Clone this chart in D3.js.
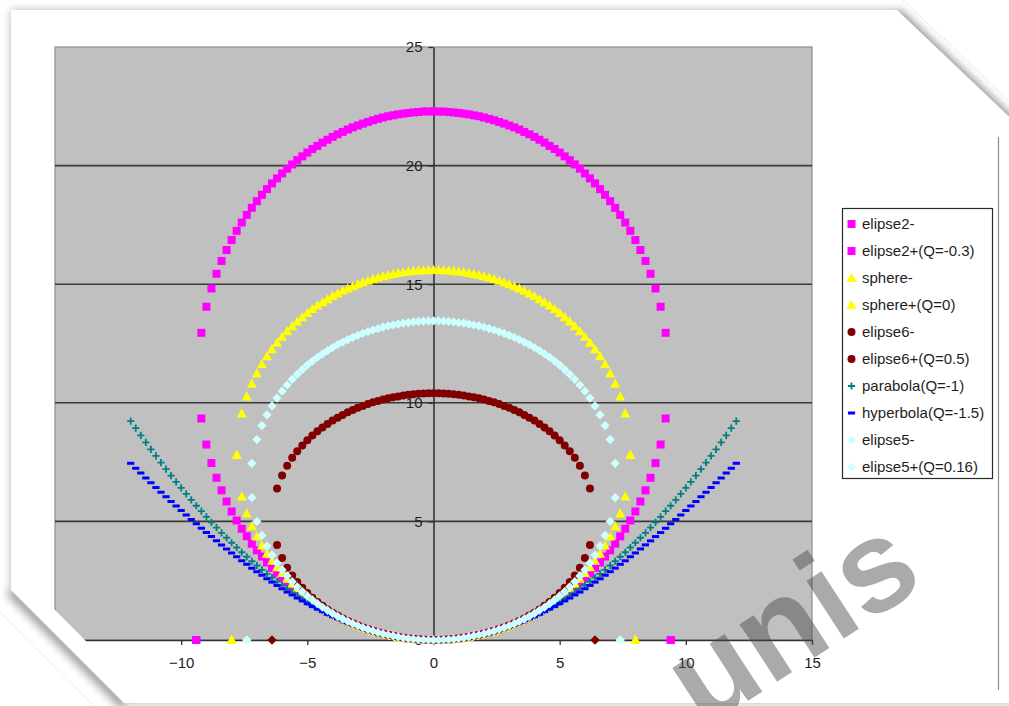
<!DOCTYPE html>
<html>
<head>
<meta charset="utf-8">
<script src="https://cdn.jsdelivr.net/npm/d3@7"></script>
<style>
  html, body { margin: 0; padding: 0; background: #fff; }
  svg { display: block; }
  text { font-family: Arial, "Liberation Sans", sans-serif; }
</style>
</head>
<body>
<svg id="chart" width="1009" height="706"></svg>
<script>
// ---- x positions (step 0.2) for each conic family ----
const xParabola = [-12,-11.8,-11.6,-11.4,-11.2,-11,-10.8,-10.6,-10.4,-10.2,-10,-9.8,-9.6,-9.4,-9.2,-9,-8.8,-8.6,-8.4,-8.2,-8,-7.8,-7.6,-7.4,-7.2,-7,-6.8,-6.6,-6.4,-6.2,-6,-5.8,-5.6,-5.4,-5.2,-5,-4.8,-4.6,-4.4,-4.2,-4,-3.8,-3.6,-3.4,-3.2,-3,-2.8,-2.6,-2.4,-2.2,-2,-1.8,-1.6,-1.4,-1.2,-1,-0.8,-0.6,-0.4,-0.2,0,0.2,0.4,0.6,0.8,1,1.2,1.4,1.6,1.8,2,2.2,2.4,2.6,2.8,3,3.2,3.4,3.6,3.8,4,4.2,4.4,4.6,4.8,5,5.2,5.4,5.6,5.8,6,6.2,6.4,6.6,6.8,7,7.2,7.4,7.6,7.8,8,8.2,8.4,8.6,8.8,9,9.2,9.4,9.6,9.8,10,10.2,10.4,10.6,10.8,11,11.2,11.4,11.6,11.8,12];
const xElipse2 = [-9.4,-9.2,-9,-8.8,-8.6,-8.4,-8.2,-8,-7.8,-7.6,-7.4,-7.2,-7,-6.8,-6.6,-6.4,-6.2,-6,-5.8,-5.6,-5.4,-5.2,-5,-4.8,-4.6,-4.4,-4.2,-4,-3.8,-3.6,-3.4,-3.2,-3,-2.8,-2.6,-2.4,-2.2,-2,-1.8,-1.6,-1.4,-1.2,-1,-0.8,-0.6,-0.4,-0.2,0,0.2,0.4,0.6,0.8,1,1.2,1.4,1.6,1.8,2,2.2,2.4,2.6,2.8,3,3.2,3.4,3.6,3.8,4,4.2,4.4,4.6,4.8,5,5.2,5.4,5.6,5.8,6,6.2,6.4,6.6,6.8,7,7.2,7.4,7.6,7.8,8,8.2,8.4,8.6,8.8,9,9.2,9.4];
const xSphere = [-8,-7.8,-7.6,-7.4,-7.2,-7,-6.8,-6.6,-6.4,-6.2,-6,-5.8,-5.6,-5.4,-5.2,-5,-4.8,-4.6,-4.4,-4.2,-4,-3.8,-3.6,-3.4,-3.2,-3,-2.8,-2.6,-2.4,-2.2,-2,-1.8,-1.6,-1.4,-1.2,-1,-0.8,-0.6,-0.4,-0.2,0,0.2,0.4,0.6,0.8,1,1.2,1.4,1.6,1.8,2,2.2,2.4,2.6,2.8,3,3.2,3.4,3.6,3.8,4,4.2,4.4,4.6,4.8,5,5.2,5.4,5.6,5.8,6,6.2,6.4,6.6,6.8,7,7.2,7.4,7.6,7.8,8];
const xElipse6 = [-6.4,-6.2,-6,-5.8,-5.6,-5.4,-5.2,-5,-4.8,-4.6,-4.4,-4.2,-4,-3.8,-3.6,-3.4,-3.2,-3,-2.8,-2.6,-2.4,-2.2,-2,-1.8,-1.6,-1.4,-1.2,-1,-0.8,-0.6,-0.4,-0.2,0,0.2,0.4,0.6,0.8,1,1.2,1.4,1.6,1.8,2,2.2,2.4,2.6,2.8,3,3.2,3.4,3.6,3.8,4,4.2,4.4,4.6,4.8,5,5.2,5.4,5.6,5.8,6,6.2,6.4];
const xElipse5 = [-7.4,-7.2,-7,-6.8,-6.6,-6.4,-6.2,-6,-5.8,-5.6,-5.4,-5.2,-5,-4.8,-4.6,-4.4,-4.2,-4,-3.8,-3.6,-3.4,-3.2,-3,-2.8,-2.6,-2.4,-2.2,-2,-1.8,-1.6,-1.4,-1.2,-1,-0.8,-0.6,-0.4,-0.2,0,0.2,0.4,0.6,0.8,1,1.2,1.4,1.6,1.8,2,2.2,2.4,2.6,2.8,3,3.2,3.4,3.6,3.8,4,4.2,4.4,4.6,4.8,5,5.2,5.4,5.6,5.8,6,6.2,6.4,6.6,6.8,7,7.2,7.4];

// ---- sag values (out-of-range cells show up as 0 at the ends) ----
const elipse2Minus = [0,9.34,8.24,7.46,6.84,6.31,5.84,5.42,5.04,4.69,4.37,4.06,3.78,3.52,3.27,3.04,2.82,2.61,2.42,2.23,2.06,1.89,1.74,1.59,1.45,1.32,1.19,1.08,0.97,0.86,0.77,0.68,0.59,0.51,0.44,0.38,0.31,0.26,0.21,0.17,0.13,0.09,0.06,0.04,0.02,0.01,0.00,0,0.00,0.01,0.02,0.04,0.06,0.09,0.13,0.17,0.21,0.26,0.31,0.38,0.44,0.51,0.59,0.68,0.77,0.86,0.97,1.08,1.19,1.32,1.45,1.59,1.74,1.89,2.06,2.23,2.42,2.61,2.82,3.04,3.27,3.52,3.78,4.06,4.37,4.69,5.04,5.42,5.84,6.31,6.84,7.46,8.24,9.34,0];
const elipse2Plus = [0,12.95,14.05,14.82,15.44,15.98,16.44,16.86,17.25,17.60,17.92,18.22,18.50,18.77,19.01,19.25,19.46,19.67,19.87,20.05,20.23,20.39,20.55,20.70,20.83,20.97,21.09,21.21,21.32,21.42,21.52,21.61,21.69,21.77,21.84,21.91,21.97,22.03,22.08,22.12,22.16,22.19,22.22,22.24,22.26,22.28,22.28,22.29,22.28,22.28,22.26,22.24,22.22,22.19,22.16,22.12,22.08,22.03,21.97,21.91,21.84,21.77,21.69,21.61,21.52,21.42,21.32,21.21,21.09,20.97,20.83,20.70,20.55,20.39,20.23,20.05,19.87,19.67,19.46,19.25,19.01,18.77,18.50,18.22,17.92,17.60,17.25,16.86,16.44,15.98,15.44,14.82,14.05,12.95,0];
const sphereMinus = [0,7.80,6.05,5.33,4.80,4.36,3.98,3.64,3.34,3.07,2.82,2.58,2.37,2.17,1.99,1.81,1.65,1.50,1.36,1.23,1.10,0.99,0.88,0.78,0.69,0.60,0.52,0.45,0.38,0.32,0.26,0.21,0.17,0.13,0.09,0.06,0.04,0.02,0.01,0.00,0,0.00,0.01,0.02,0.04,0.06,0.09,0.13,0.17,0.21,0.26,0.32,0.38,0.45,0.52,0.60,0.69,0.78,0.88,0.99,1.10,1.23,1.36,1.50,1.65,1.81,1.99,2.17,2.37,2.58,2.82,3.07,3.34,3.64,3.98,4.36,4.80,5.33,6.05,7.80,0];
const spherePlus = [0,7.80,9.55,10.27,10.80,11.24,11.62,11.96,12.26,12.53,12.78,13.02,13.23,13.43,13.61,13.79,13.95,14.10,14.24,14.37,14.50,14.61,14.72,14.82,14.91,15.00,15.08,15.15,15.22,15.28,15.34,15.39,15.43,15.47,15.51,15.54,15.56,15.58,15.59,15.60,15.60,15.60,15.59,15.58,15.56,15.54,15.51,15.47,15.43,15.39,15.34,15.28,15.22,15.15,15.08,15.00,14.91,14.82,14.72,14.61,14.50,14.37,14.24,14.10,13.95,13.79,13.61,13.43,13.23,13.02,12.78,12.53,12.26,11.96,11.62,11.24,10.80,10.27,9.55,7.80,0];
const elipse6Minus = [0,4.01,3.46,3.05,2.72,2.44,2.20,1.98,1.78,1.60,1.44,1.29,1.15,1.03,0.91,0.80,0.70,0.61,0.53,0.45,0.38,0.32,0.26,0.21,0.17,0.13,0.09,0.06,0.04,0.02,0.01,0.00,0,0.00,0.01,0.02,0.04,0.06,0.09,0.13,0.17,0.21,0.26,0.32,0.38,0.45,0.53,0.61,0.70,0.80,0.91,1.03,1.15,1.29,1.44,1.60,1.78,1.98,2.20,2.44,2.72,3.05,3.46,4.01,0];
const elipse6Plus = [0,6.39,6.94,7.35,7.68,7.96,8.20,8.42,8.62,8.80,8.96,9.11,9.25,9.37,9.49,9.60,9.70,9.79,9.87,9.95,10.02,10.08,10.14,10.19,10.23,10.27,10.31,10.34,10.36,10.38,10.39,10.40,10.40,10.40,10.39,10.38,10.36,10.34,10.31,10.27,10.23,10.19,10.14,10.08,10.02,9.95,9.87,9.79,9.70,9.60,9.49,9.37,9.25,9.11,8.96,8.80,8.62,8.42,8.20,7.96,7.68,7.35,6.94,6.39,0];
const parabola = [9.23,8.93,8.63,8.33,8.04,7.76,7.48,7.20,6.93,6.67,6.41,6.16,5.91,5.66,5.43,5.19,4.96,4.74,4.52,4.31,4.10,3.90,3.70,3.51,3.32,3.14,2.96,2.79,2.63,2.46,2.31,2.16,2.01,1.87,1.73,1.60,1.48,1.36,1.24,1.13,1.03,0.93,0.83,0.74,0.66,0.58,0.50,0.43,0.37,0.31,0.26,0.21,0.16,0.13,0.09,0.06,0.04,0.02,0.01,0.00,0,0.00,0.01,0.02,0.04,0.06,0.09,0.13,0.16,0.21,0.26,0.31,0.37,0.43,0.50,0.58,0.66,0.74,0.83,0.93,1.03,1.13,1.24,1.36,1.48,1.60,1.73,1.87,2.01,2.16,2.31,2.46,2.63,2.79,2.96,3.14,3.32,3.51,3.70,3.90,4.10,4.31,4.52,4.74,4.96,5.19,5.43,5.66,5.91,6.16,6.41,6.67,6.93,7.20,7.48,7.76,8.04,8.33,8.63,8.93,9.23];
const hyperbola = [7.45,7.24,7.04,6.83,6.63,6.43,6.23,6.04,5.84,5.65,5.46,5.27,5.08,4.90,4.71,4.53,4.36,4.18,4.01,3.84,3.67,3.51,3.34,3.19,3.03,2.88,2.73,2.58,2.44,2.30,2.16,2.02,1.90,1.77,1.65,1.53,1.41,1.30,1.20,1.09,0.99,0.90,0.81,0.72,0.64,0.57,0.49,0.43,0.36,0.31,0.25,0.21,0.16,0.13,0.09,0.06,0.04,0.02,0.01,0.00,0,0.00,0.01,0.02,0.04,0.06,0.09,0.13,0.16,0.21,0.25,0.31,0.36,0.43,0.49,0.57,0.64,0.72,0.81,0.90,0.99,1.09,1.20,1.30,1.41,1.53,1.65,1.77,1.90,2.02,2.16,2.30,2.44,2.58,2.73,2.88,3.03,3.19,3.34,3.51,3.67,3.84,4.01,4.18,4.36,4.53,4.71,4.90,5.08,5.27,5.46,5.65,5.84,6.04,6.23,6.43,6.63,6.83,7.04,7.24,7.45];
const elipse5Minus = [0,6.00,5.00,4.41,3.96,3.58,3.25,2.96,2.70,2.46,2.24,2.04,1.86,1.69,1.53,1.38,1.25,1.12,1.00,0.89,0.79,0.69,0.60,0.52,0.45,0.38,0.32,0.26,0.21,0.17,0.13,0.09,0.06,0.04,0.02,0.01,0.00,0,0.00,0.01,0.02,0.04,0.06,0.09,0.13,0.17,0.21,0.26,0.32,0.38,0.45,0.52,0.60,0.69,0.79,0.89,1.00,1.12,1.25,1.38,1.53,1.69,1.86,2.04,2.24,2.46,2.70,2.96,3.25,3.58,3.96,4.41,5.00,6.00,0];
const elipse5Plus = [0,7.45,8.45,9.04,9.49,9.87,10.20,10.49,10.75,10.99,11.20,11.40,11.59,11.76,11.92,12.06,12.20,12.33,12.45,12.56,12.66,12.76,12.84,12.93,13.00,13.07,13.13,13.19,13.24,13.28,13.32,13.36,13.38,13.41,13.43,13.44,13.45,13.45,13.45,13.44,13.43,13.41,13.38,13.36,13.32,13.28,13.24,13.19,13.13,13.07,13.00,12.93,12.84,12.76,12.66,12.56,12.45,12.33,12.20,12.06,11.92,11.76,11.59,11.40,11.20,10.99,10.75,10.49,10.20,9.87,9.49,9.04,8.45,7.45,0];

// ---- axis ticks and legend text ----
const xTicks = [-15, -10, -5, 0, 5, 10, 15];
const yTicks = [0, 5, 10, 15, 20, 25];
const seriesNames = ["elipse2-", "elipse2+(Q=-0.3)", "sphere-", "sphere+(Q=0)", "elipse6-",
                     "elipse6+(Q=0.5)", "parabola(Q=-1)", "hyperbola(Q=-1.5)", "elipse5-", "elipse5+(Q=0.16)"];
const watermarkText = "unis";

// ---- series styling ----
const series = [
  { name: seriesNames[0], xs: xElipse2, ys: elipse2Minus, color: "#FF00FF", marker: "square" },
  { name: seriesNames[1], xs: xElipse2, ys: elipse2Plus,  color: "#FF00FF", marker: "square" },
  { name: seriesNames[2], xs: xSphere,  ys: sphereMinus,  color: "#FFFF00", marker: "triangle" },
  { name: seriesNames[3], xs: xSphere,  ys: spherePlus,   color: "#FFFF00", marker: "triangle" },
  { name: seriesNames[4], xs: xElipse6, ys: elipse6Minus, color: "#800000", marker: "circle", endMarker: "diamond" },
  { name: seriesNames[5], xs: xElipse6, ys: elipse6Plus,  color: "#800000", marker: "circle", endMarker: "diamond" },
  { name: seriesNames[6], xs: xParabola, ys: parabola,    color: "#008080", marker: "plus" },
  { name: seriesNames[7], xs: xParabola, ys: hyperbola,   color: "#0000FF", marker: "dash" },
  { name: seriesNames[8], xs: xElipse5, ys: elipse5Minus, color: "#CCFFFF", marker: "diamond" },
  { name: seriesNames[9], xs: xElipse5, ys: elipse5Plus,  color: "#CCFFFF", marker: "diamond" }
];

const svg = d3.select("#chart");
const W = 1009, H = 706;
const plot = { left: 55, top: 47, right: 812, bottom: 640 };

const x = d3.scaleLinear().domain([-15, 15]).range([plot.left, plot.right]);
const y = d3.scaleLinear().domain([0, 25]).range([plot.bottom, plot.top]);

function markerPath(type) {
  switch (type) {
    case "square":   return "M-4,-4H4V4H-4Z";
    case "triangle": return "M0,-5.2L5,4H-5Z";
    case "circle":   return "M4,0A4,4 0 1,1 -4,0A4,4 0 1,1 4,0Z";
    case "diamond":  return "M0,-4.6L4.6,0L0,4.6L-4.6,0Z";
    case "plus":     return "M-3.6,0H3.6M0,-3.6V3.6";
    case "dash":     return "M-3.6,-1.5H3.6V1.5H-3.6Z";
  }
}
function styleMarker(sel, s) {
  sel.attr("fill", d => (d.marker === "plus" ? "none" : s.color))
     .attr("stroke", d => (d.marker === "plus" ? s.color : "none"))
     .attr("stroke-width", d => (d.marker === "plus" ? 1.8 : 0));
}

// ---- page with folded corners ----
const defs = svg.append("defs");
const blur = defs.append("filter").attr("id", "shadowBlur")
  .attr("x", "-10%").attr("y", "-10%").attr("width", "120%").attr("height", "120%");
blur.append("feGaussianBlur").attr("stdDeviation", 4);

const pagePts = [[11, 10], [897, 10], [1040, 146], [1040, 703], [124, 703], [11, 590]];
const contentPts = [[0, 0], [855, 0], [1009, 147], [1009, 706], [151, 706], [0, 555]];
const poly = pts => "M" + pts.map(p => p.join(",")).join("L") + "Z";

svg.append("rect").attr("width", W).attr("height", H).attr("fill", "#fff");
svg.append("path").attr("d", poly(pagePts)).attr("fill", "#9a9a9a")
  .attr("filter", "url(#shadowBlur)").attr("opacity", 0.75);
// stronger shade along the two folds
svg.append("path").attr("d", "M897,12L1040,148").attr("stroke", "#8a8a8a")
  .attr("stroke-width", 8).attr("filter", "url(#shadowBlur)").attr("opacity", 0.8);
svg.append("path").attr("d", "M9,592L124,707").attr("stroke", "#6a6a6a")
  .attr("stroke-width", 6).attr("filter", "url(#shadowBlur)").attr("opacity", 0.8);
svg.append("path").attr("d", poly(pagePts)).attr("fill", "#fff");
// faint dotted crease outside the folds
svg.append("path").attr("d", "M903,0L1009,101").attr("stroke", "#c8c8c8")
  .attr("stroke-width", 1).attr("stroke-dasharray", "1,2").attr("fill", "none");
svg.append("path").attr("d", "M0,612L94,706").attr("stroke", "#c8c8c8")
  .attr("stroke-width", 1).attr("stroke-dasharray", "1,2").attr("fill", "none");

defs.append("clipPath").attr("id", "contentClip")
  .append("path").attr("d", poly(contentPts));

const content = svg.append("g").attr("clip-path", "url(#contentClip)");

// chart frame edge on the right
content.append("line").attr("x1", 998.5).attr("x2", 998.5).attr("y1", 136).attr("y2", 690)
  .attr("stroke", "#8c8c8c").attr("stroke-width", 1.2);

// ---- plot area ----
content.append("rect")
  .attr("x", plot.left).attr("y", plot.top)
  .attr("width", plot.right - plot.left).attr("height", plot.bottom - plot.top)
  .attr("fill", "#C0C0C0").attr("stroke", "#8e8e8e").attr("stroke-width", 1.2);

content.append("g").selectAll("line")
  .data(yTicks.filter(v => v > 0 && v < 25))
  .join("line")
  .attr("x1", plot.left).attr("x2", plot.right)
  .attr("y1", d => y(d)).attr("y2", d => y(d))
  .attr("stroke", "#3a3a3a").attr("stroke-width", 1.6);

// axes cross at the origin
const xAxis = content.append("g").attr("transform", `translate(0,${y(0)})`)
  .call(d3.axisBottom(x).tickValues(xTicks).tickSize(5).tickSizeOuter(0).tickPadding(12)
        .tickFormat(d3.format("d")));
const yAxis = content.append("g").attr("transform", `translate(${x(0)},0)`)
  .call(d3.axisLeft(y).tickValues(yTicks).tickSize(5).tickSizeOuter(0).tickPadding(6)
        .tickFormat(d3.format("d")));
[xAxis, yAxis].forEach(a => {
  a.select(".domain").attr("stroke", "#333").attr("stroke-width", 1.6);
  a.selectAll(".tick line").attr("stroke", "#333").attr("stroke-width", 1.3);
  a.selectAll(".tick text").attr("fill", "#1e1e1e").attr("font-size", 15)
    .attr("font-family", "Arial, 'Liberation Sans', sans-serif");
});

// ---- markers ----
series.forEach(s => {
  const pts = s.xs.map((xv, i) => ({
    x: xv, y: s.ys[i],
    marker: (s.endMarker && (i === 0 || i === s.xs.length - 1)) ? s.endMarker : s.marker
  }));
  const g = content.append("g").attr("class", "series");
  g.selectAll("path").data(pts).join("path")
    .attr("d", d => markerPath(d.marker))
    .attr("transform", d => `translate(${x(d.x)},${y(d.y)})`)
    .call(styleMarker, s);
});

// ---- legend ----
const legend = content.append("g").attr("transform", "translate(842.5,208.5)");
legend.append("rect").attr("width", 150).attr("height", 270)
  .attr("fill", "#fff").attr("stroke", "#2a2a2a").attr("stroke-width", 1.2);
const rows = legend.selectAll("g.row").data(series).join("g")
  .attr("class", "row")
  .attr("transform", (d, i) => `translate(0,${15.5 + i * 27})`);
rows.append("path")
  .attr("transform", "translate(9,0)")
  .attr("d", d => markerPath(d.marker))
  .each(function (d) {
    d3.select(this).datum({ marker: d.marker }).call(styleMarker, d);
  });
rows.append("text")
  .attr("x", 19.5).attr("dy", "0.35em")
  .attr("font-size", 15).attr("fill", "#1e1e1e")
  .text(d => d.name);

// ---- watermark ----
svg.append("text")
  .attr("transform", "translate(703,730) rotate(-33)")
  .attr("font-size", 130)
  .attr("font-weight", "bold")
  .attr("font-family", "Arial, 'Liberation Sans', sans-serif")
  .attr("fill", "rgb(70,70,70)").attr("fill-opacity", 0.46)
  .text(watermarkText);
</script>
</body>
</html>
